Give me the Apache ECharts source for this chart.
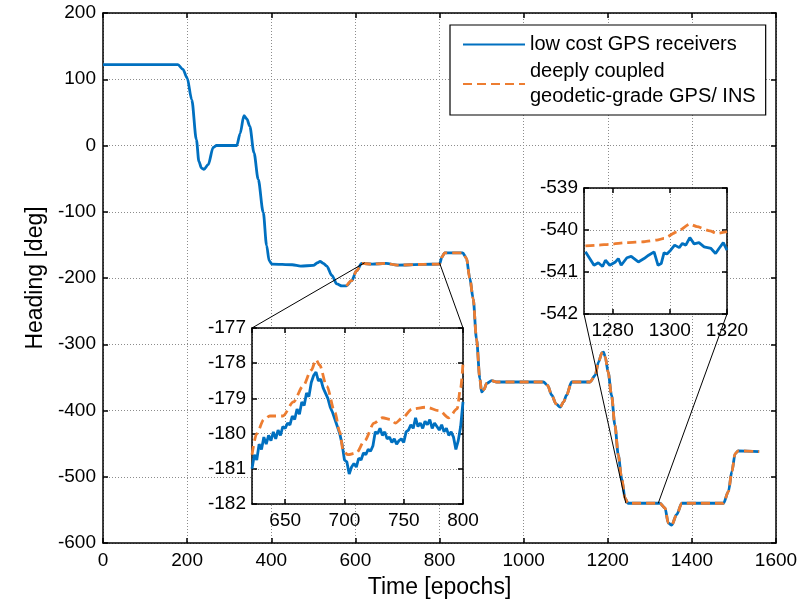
<!DOCTYPE html>
<html>
<head>
<meta charset="utf-8">
<script src="https://cdn.jsdelivr.net/npm/echarts@6/dist/echarts.min.js"></script>
<style>
html, body { margin: 0; padding: 0; background: #fff; }
#chart { width: 808px; height: 604px; }
</style>
</head>
<body>
<div id="chart"></div>
<script>
// main trace, [epoch, heading]
var mainBlue = [
    [0, 122], [178, 122], [190, 115], [200, 102], [211, 69], [222, 9], [228, -24], [234, -34],
    [240, -36], [250, -29], [262, -3], [270, 0], [318, 0], [326, 18], [335, 45], [342, 40], [349, 29],
    [359, -11], [369, -51], [381, -101], [389, -151], [395, -174], [402, -179], [450, -180],
    [470, -182], [500, -181], [510, -177], [516, -175], [524, -178], [532, -182], [544, -196],
    [556, -209], [568, -212], [579, -212], [591, -204], [603, -189], [615, -178], [640, -179],
    [673, -178], [700, -180.5], [760, -179.5], [800, -179], [806, -168], [812, -162], [855, -162],
    [864, -170], [872, -200], [880, -231], [888, -292], [896, -352], [900, -372], [906, -368],
    [912, -359], [924, -355], [936, -357], [1047, -357], [1057, -362], [1067, -377], [1077, -390],
    [1087, -395], [1095, -387], [1102, -377], [1114, -357], [1158, -357], [1170, -347], [1178, -327],
    [1186, -313], [1190, -312], [1194, -319], [1201, -342], [1209, -377], [1217, -422], [1225, -467],
    [1233, -502], [1241, -532], [1248, -540], [1324, -540], [1336, -547], [1344, -570], [1352, -573],
    [1364, -557], [1376, -540], [1475, -540], [1487, -522], [1495, -492], [1503, -465], [1510, -461],
    [1560, -462]
];
var orangeFrom = 579;   // the coupled solution starts here

// zoom 1 (622..800)
var blueA = [
    [622, -181.0], [624, -180.6], [626, -180.75], [628, -180.3], [630, -180.45], [632, -180.1],
    [634, -180.3], [636, -180.05], [638, -180.2], [640, -179.95], [642, -180.15], [644, -179.9],
    [646, -180.05], [648, -179.8], [650, -179.85], [652, -179.7], [654, -179.75], [656, -179.5],
    [658, -179.6], [660, -179.3], [662, -179.45], [664, -179.1], [666, -179.2], [668, -178.85],
    [670, -178.95], [672, -178.55], [674, -178.35], [676, -178.25], [678, -178.5], [680, -178.45],
    [682, -178.7], [684, -178.85], [686, -179.0], [688, -179.25], [690, -179.4], [692, -179.6],
    [694, -179.8], [696, -180.0], [698, -180.3], [700, -180.75], [702, -180.8], [704, -181.15],
    [706, -180.95], [708, -180.85], [710, -180.95], [712, -180.7], [714, -180.75], [716, -180.55],
    [718, -180.6], [720, -180.45], [722, -180.5], [724, -180.35], [726, -179.95], [728, -180.0],
    [730, -179.85], [732, -180.05], [734, -179.95], [736, -180.15], [738, -180.1], [740, -180.25],
    [742, -180.15], [744, -180.3], [746, -180.2], [748, -180.15], [750, -180.25], [752, -179.95],
    [754, -179.9], [756, -179.75], [758, -179.85], [760, -179.55], [762, -179.8], [764, -179.7],
    [766, -179.85], [768, -179.65], [770, -179.75], [772, -179.6], [774, -179.85], [776, -179.7],
    [778, -179.8], [780, -179.9], [782, -179.75], [784, -179.95], [786, -179.85], [788, -180.05],
    [790, -179.95], [792, -180.1], [794, -180.45], [796, -180.2], [798, -179.8], [800, -179.1]
];
var orangeA = [
    [622, -180.6], [626, -180.0], [632, -179.6], [637, -179.5], [648, -179.5], [657, -179.1],
    [665, -178.65], [672, -178.2], [676, -177.9], [679, -178.05], [685, -178.65], [692, -179.4],
    [696, -179.95], [699, -180.5], [703, -180.6], [710, -180.55], [717, -180.2], [725, -179.7],
    [732, -179.55], [739, -179.6], [743, -179.7], [749, -179.55], [757, -179.3], [769, -179.25],
    [780, -179.35], [788, -179.55], [795, -179.3], [798, -178.7], [800, -178.0]
];

// zoom 2 (1270..1320)
var blueB = [
    [1270.5, -540.52], [1272, -540.68], [1273.5, -540.84], [1275, -540.78], [1276.5, -540.87],
    [1277.5, -540.72], [1279, -540.84], [1281, -540.76], [1282, -540.68], [1283, -540.84],
    [1285, -540.66], [1286.5, -540.63], [1289, -540.76], [1291, -540.68], [1292.6, -540.6],
    [1294.5, -540.52], [1295.9, -540.84], [1297, -540.8], [1298, -540.54], [1299, -540.57],
    [1300.3, -540.48], [1301.7, -540.36], [1303.3, -540.42], [1304.4, -540.32], [1305.6, -540.36],
    [1307, -540.18], [1308.5, -540.33], [1310.2, -540.3], [1312, -540.4], [1314.4, -540.44],
    [1316, -540.56], [1317.2, -540.44], [1318.7, -540.3], [1320, -540.48]
];
var orangeB = [
    [1270.5, -540.38], [1275, -540.36], [1279, -540.34], [1285, -540.3], [1291, -540.28],
    [1295.5, -540.24], [1298, -540.2], [1302.6, -540.04], [1307, -539.86], [1309.5, -539.92],
    [1314, -540.02], [1316.5, -540.08], [1320, -540.04]
];

var BLUE = '#0070C0';
var ORANGE = '#ED7D31';
var FONT = 'Liberation Sans, Arial, sans-serif';
var nameBlue = 'low cost GPS receivers';
var nameOrange = 'deeply coupled\ngeodetic-grade GPS/ INS';

var myChart = echarts.init(document.getElementById('chart'));

function boxAxes(gridIndex, dim, opt, z) {
    // one labelled axis plus a mirrored one to close the box
    var base = {
        type: 'value',
        gridIndex: gridIndex,
        min: opt.min,
        max: opt.max,
        z: z,
        axisLine: { show: true, onZero: false, lineStyle: { color: '#000', width: 1.5 } },
        axisTick: { show: true, inside: true, length: 5, lineStyle: { color: '#000', width: 1.5 } },
        axisLabel: {
            show: true, color: '#000', fontSize: 19, fontFamily: FONT,
            margin: opt.margin, showMinLabel: opt.showMin,
            formatter: function (v) { return String(v); }
        },
        splitLine: { show: true, lineStyle: { color: '#8c8c8c', type: [1, 2], width: 1 } }
    };
    if (opt.interval) base.interval = opt.interval;
    if (opt.splitNumber) base.splitNumber = opt.splitNumber;
    var mirror = echarts.util.merge(echarts.util.clone(base), {
        axisLabel: { show: false },
        splitLine: { show: false }
    }, true);
    base.position = dim === 'x' ? 'bottom' : 'left';
    mirror.position = dim === 'x' ? 'top' : 'right';
    if (opt.name) {
        base.name = opt.name;
        base.nameLocation = 'middle';
        base.nameGap = opt.nameGap;
        base.nameTextStyle = { fontSize: 23, fontFamily: FONT, color: '#000' };
    }
    return [base, mirror];
}

var xAxes = [].concat(
    boxAxes(0, 'x', { min: 0, max: 1600, interval: 200, margin: 8, name: 'Time [epochs]', nameGap: 33 }, 0),
    boxAxes(1, 'x', { min: 622, max: 800, splitNumber: 4, margin: 7, showMin: false }, 6),
    boxAxes(2, 'x', { min: 1270, max: 1320, splitNumber: 3, margin: 7, showMin: false }, 6)
);
var yAxes = [].concat(
    boxAxes(0, 'y', { min: -600, max: 200, interval: 100, margin: 7, name: 'Heading [deg]', nameGap: 55 }, 0),
    boxAxes(1, 'y', { min: -182, max: -177, interval: 1, margin: 6 }, 6),
    boxAxes(2, 'y', { min: -542, max: -539, interval: 1, margin: 6 }, 6)
);

function lineSeries(name, data, color, dashed, xi, yi, z, smooth) {
    return {
        name: name,
        type: 'line',
        data: data,
        xAxisIndex: xi,
        yAxisIndex: yi,
        showSymbol: false,
        symbol: 'none',
        smooth: smooth,
        smoothMonotone: 'x',
        z: z,
        animation: false,
        lineStyle: { color: color, width: 2.8, type: dashed ? [9, 5] : 'solid' },
        itemStyle: { color: color }
    };
}

var mainOrange = mainBlue.filter(function (p) { return p[0] >= orangeFrom; });

myChart.setOption({
    animation: false,
    textStyle: { fontFamily: FONT },
    grid: [
        { left: 103, top: 13, width: 673, height: 532, show: false },
        { left: 252, top: 328, width: 211, height: 176, show: true, backgroundColor: '#fff', borderWidth: 0, z: 5 },
        { left: 584, top: 188, width: 143, height: 126, show: true, backgroundColor: '#fff', borderWidth: 0, z: 5 }
    ],
    legend: {
        orient: 'vertical',
        left: 450,
        top: 25,
        padding: [7, 10, 6, 12],
        itemWidth: 62,
        itemHeight: 14,
        itemGap: 2,
        backgroundColor: '#fff',
        borderColor: '#000',
        borderWidth: 1.2,
        borderRadius: 0,
        z: 10,
        itemStyle: { opacity: 0 },
        textStyle: { fontSize: 20, lineHeight: 25, color: '#000', fontFamily: FONT },
        data: [nameBlue, nameOrange]
    },
    xAxis: xAxes,
    yAxis: yAxes,
    series: [
        lineSeries(nameBlue, mainBlue, BLUE, false, 0, 0, 2, 0.3),
        lineSeries(nameOrange, mainOrange, ORANGE, true, 0, 0, 3, 0.3),
        lineSeries(nameBlue, blueA, BLUE, false, 2, 2, 7, false),
        lineSeries(nameOrange, orangeA, ORANGE, true, 2, 2, 8, 0.3),
        lineSeries(nameBlue, blueB, BLUE, false, 4, 4, 7, false),
        lineSeries(nameOrange, orangeB, ORANGE, true, 4, 4, 8, 0.2)
    ]
});

// lines tying each inset to the region it magnifies
function link(insetGrid, insetPt, mainPt) {
    var a = myChart.convertToPixel({ gridIndex: insetGrid }, insetPt);
    var b = myChart.convertToPixel({ gridIndex: 0 }, mainPt);
    return {
        type: 'line',
        z: 4,
        shape: { x1: a[0], y1: a[1], x2: b[0], y2: b[1] },
        style: { stroke: '#000', lineWidth: 1 }
    };
}

myChart.setOption({
    graphic: [
        link(1, [622, -177], [622, -177]),
        link(1, [800, -177], [800, -177]),
        link(2, [1270, -542], [1243, -540]),
        link(2, [1320, -542], [1320, -540])
    ]
});
</script>
</body>
</html>
